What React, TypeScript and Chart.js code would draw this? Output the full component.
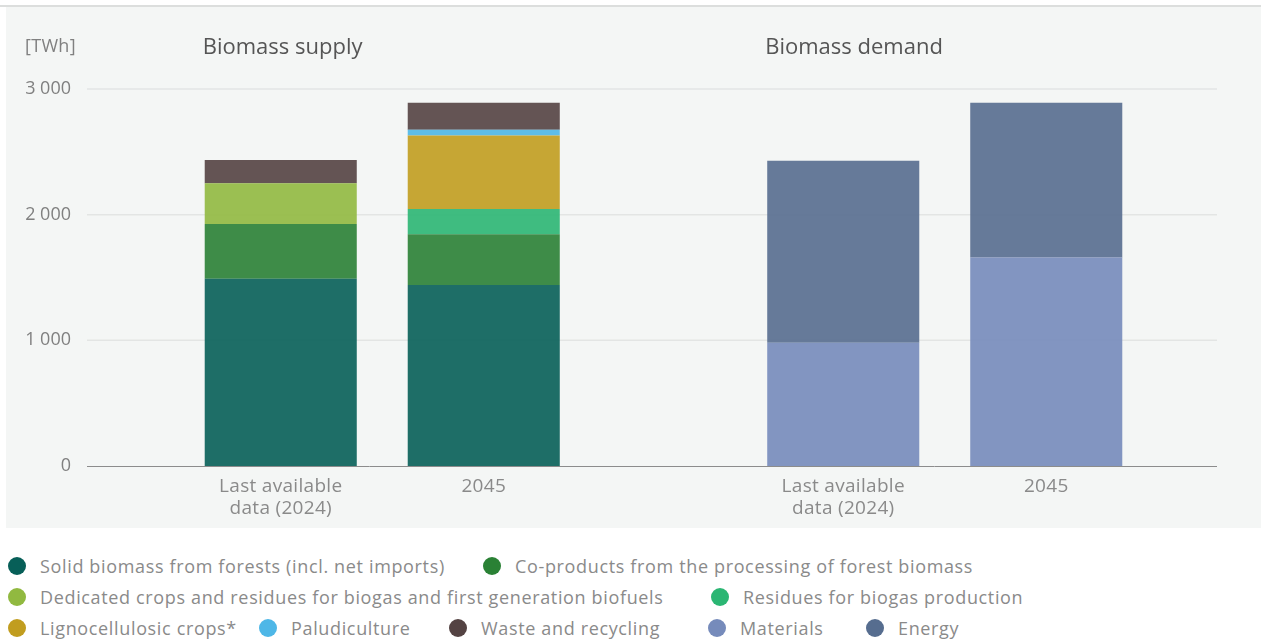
import React, { useEffect, useRef } from "react";
import { Chart, registerables } from "chart.js";

Chart.register(...registerables);

// ---------- data ----------
const groups = ["Biomass supply", "Biomass demand"];
const periods = [["Last available", "data (2024)"], ["2045"]];
const stackIds = ["y2024", "y2045"];
const unitLabel = "[TWh]";

// supply series, values for [last available data (2024), 2045]
const solidForests = [1490, 1440];
const coProducts = [435, 405];
const dedicatedCrops = [325, 0];
const residuesBiogas = [0, 200];
const lignoCrops = [0, 585];
const paludiculture = [0, 45];
const wasteRecycling = [185, 215];

// demand series, values for [last available data (2024), 2045]
const materials = [980, 1660];
const energy = [1450, 1230];

const yMin = 0;
const yMax = 3000;
const yStep = 1000;

// ---------- series definitions ----------
type Series = { name: string; values: number[]; group: number; color: string };

const series: Series[] = [
  { name: "Solid biomass from forests (incl. net imports)", values: solidForests, group: 0, color: "#075f58" },
  { name: "Co-products from the processing of forest biomass", values: coProducts, group: 0, color: "#2a8135" },
  { name: "Dedicated crops and residues for biogas and first generation biofuels", values: dedicatedCrops, group: 0, color: "#91b940" },
  { name: "Residues for biogas production", values: residuesBiogas, group: 0, color: "#2bb673" },
  { name: "Lignocellulosic crops*", values: lignoCrops, group: 0, color: "#c19d1f" },
  { name: "Paludiculture", values: paludiculture, group: 0, color: "#4eb7e7" },
  { name: "Waste and recycling", values: wasteRecycling, group: 0, color: "#544343" },
  { name: "Materials", values: materials, group: 1, color: "#768bbb" },
  { name: "Energy", values: energy, group: 1, color: "#566d8f" },
];

// legend layout (rows and circle centres)
const legendLayout: { name: string; row: number; cx: number }[] = [
  { name: "Solid biomass from forests (incl. net imports)", row: 0, cx: 17 },
  { name: "Co-products from the processing of forest biomass", row: 0, cx: 492 },
  { name: "Dedicated crops and residues for biogas and first generation biofuels", row: 1, cx: 17 },
  { name: "Residues for biogas production", row: 1, cx: 720 },
  { name: "Lignocellulosic crops*", row: 2, cx: 17 },
  { name: "Paludiculture", row: 2, cx: 268 },
  { name: "Waste and recycling", row: 2, cx: 458 },
  { name: "Materials", row: 2, cx: 717 },
  { name: "Energy", row: 2, cx: 875 },
];
const legendRowY = [566, 597, 628];

const FONT = '"Open Sans", "Noto Sans", sans-serif';
const GRID_LEFT = 87;
const GRID_RIGHT = 1217;

function hexToRgba(hex: string, a: number) {
  const n = parseInt(hex.slice(1), 16);
  return `rgba(${(n >> 16) & 255},${(n >> 8) & 255},${n & 255},${a})`;
}

const gridPlugin = {
  id: "panelGrid",
  beforeDatasetsDraw(chart: any) {
    const ctx = chart.ctx as CanvasRenderingContext2D;
    const y = chart.scales.y;
    ctx.save();
    ctx.strokeStyle = "#e3e5e4";
    ctx.lineWidth = 1.5;
    y.ticks.forEach((t: any) => {
      if (t.value === 0) return;
      const py = y.getPixelForValue(t.value);
      ctx.beginPath();
      ctx.moveTo(GRID_LEFT, py);
      ctx.lineTo(GRID_RIGHT, py);
      ctx.stroke();
    });
    ctx.restore();
  },
  afterDatasetsDraw(chart: any) {
    const ctx = chart.ctx as CanvasRenderingContext2D;
    const y = chart.scales.y;
    const py = Math.round(y.getPixelForValue(0)) + 0.5;
    ctx.save();
    ctx.strokeStyle = "#8c8c8c";
    ctx.lineWidth = 1;
    ctx.beginPath();
    ctx.moveTo(GRID_LEFT, py);
    ctx.lineTo(GRID_RIGHT, py);
    ctx.stroke();
    ctx.restore();
  },
};

const labelsPlugin = {
  id: "customLabels",
  afterDraw(chart: any) {
    const ctx = chart.ctx as any;
    const { bottom } = chart.chartArea;
    ctx.save();
    // category labels under each bar
    ctx.font = `19px ${FONT}`;
    ctx.letterSpacing = "0.3px";
    ctx.fillStyle = "#8a8a8a";
    ctx.textAlign = "center";
    ctx.textBaseline = "middle";
    groups.forEach((_, gi) => {
      stackIds.forEach((sid, pi) => {
        const dsIndex = chart.data.datasets.findIndex(
          (d: any) => d.stack === sid && d.data[gi] !== null
        );
        if (dsIndex < 0) return;
        const el = chart.getDatasetMeta(dsIndex).data[gi];
        periods[pi].forEach((line, li) => {
          ctx.fillText(line, el.x, bottom + 21 + li * 22);
        });
      });
    });
    // group titles, left-aligned with first bar of each group
    ctx.font = `22px ${FONT}`;
    ctx.letterSpacing = "0px";
    ctx.fillStyle = "#555555";
    ctx.textAlign = "left";
    groups.forEach((g, gi) => {
      const dsIndex = chart.data.datasets.findIndex(
        (d: any) => d.stack === stackIds[0] && d.data[gi] !== null
      );
      const el = chart.getDatasetMeta(dsIndex).data[gi];
      ctx.fillText(g, el.x - el.width / 2 - 2, 48);
    });
    // unit label
    ctx.font = `18px ${FONT}`;
    ctx.letterSpacing = "0.3px";
    ctx.fillStyle = "#808080";
    ctx.fillText(unitLabel, 25, 47);
    ctx.restore();
  },
};

export default function App() {
  const canvasRef = useRef<HTMLCanvasElement | null>(null);

  useEffect(() => {
    document.body.style.margin = "0";
    const canvas = canvasRef.current;
    if (!canvas) return;

    const datasets: any[] = [];
    series.forEach((s) => {
      stackIds.forEach((sid, pi) => {
        datasets.push({
          label: s.name,
          data: groups.map((_, gi) => (gi === s.group ? s.values[pi] : null)),
          stack: sid,
          backgroundColor: hexToRgba(s.color, 0.9),
          borderWidth: 0,
          categoryPercentage: 0.7218,
          barPercentage: 0.749,
        });
      });
    });

    const chart = new Chart(canvas, {
      type: "bar",
      data: { labels: groups, datasets },
      options: {
        responsive: false,
        animation: false,
        devicePixelRatio: 1,
        layout: { padding: { left: 0, right: 35, top: 89, bottom: 62 } },
        plugins: {
          legend: { display: false },
          tooltip: { enabled: false },
          title: { display: false },
        },
        scales: {
          x: {
            type: "category",
            stacked: true,
            offset: true,
            grid: { display: false, drawTicks: false },
            ticks: { display: false },
            border: { display: false },
            afterFit: (s: any) => {
              s.height = 0;
            },
          },
          y: {
            stacked: true,
            min: yMin,
            max: yMax,
            ticks: {
              stepSize: yStep,
              padding: 30,
              color: "#808080",
              font: { family: FONT, size: 18 },
              callback: (v: any) => {
                const n = Number(v);
                if (n === 0) return "0";
                const th = Math.floor(n / 1000);
                const rest = String(n % 1000).padStart(3, "0");
                return `${th} ${rest}`;
              },
            },
            grid: { display: false, drawTicks: false },
            border: { display: false },
            afterFit: (s: any) => {
              s.width = 101;
            },
          },
        },
      },
      plugins: [gridPlugin, labelsPlugin],
    });

    return () => chart.destroy();
  }, []);

  const colorOf = (name: string) => series.find((s) => s.name === name)?.color || "#000";

  return (
    <div style={{ position: "relative", width: 1261, height: 642, background: "#ffffff", overflow: "hidden", fontFamily: FONT }}>
      <div style={{ position: "absolute", left: 0, top: 5, width: 1261, height: 2, background: "#dcdedd" }} />
      <div style={{ position: "absolute", left: 6, top: 7, width: 1255, height: 521, background: "#f4f6f5" }} />
      <canvas
        ref={canvasRef}
        width={1261}
        height={528}
        style={{ position: "absolute", left: 0, top: 0, width: 1261, height: 528 }}
      />
      {legendLayout.map((item) => (
        <div
          key={item.name}
          style={{
            position: "absolute",
            left: item.cx - 9,
            top: legendRowY[item.row] - 12,
            height: 24,
            display: "flex",
            alignItems: "center",
            whiteSpace: "nowrap",
          }}
        >
          <span
            style={{
              display: "inline-block",
              width: 18,
              height: 18,
              borderRadius: "50%",
              background: colorOf(item.name),
              marginRight: 14,
              flex: "0 0 auto",
            }}
          />
          <span style={{ fontSize: 18, color: "#8a8a8a", lineHeight: "24px", letterSpacing: "0.65px" }}>{item.name}</span>
        </div>
      ))}
    </div>
  );
}
